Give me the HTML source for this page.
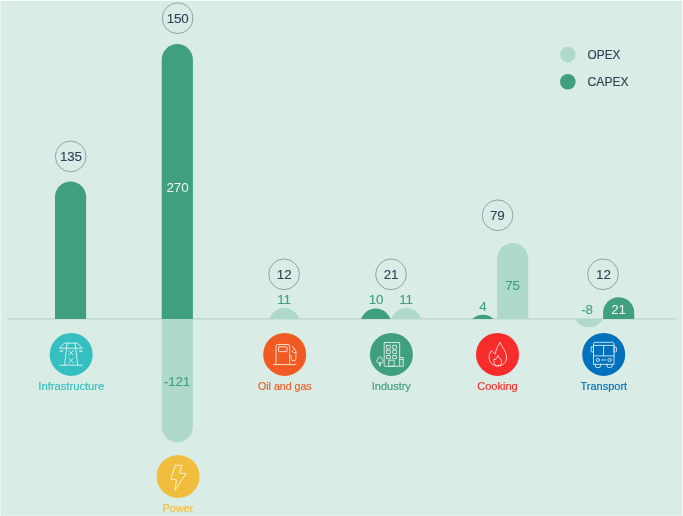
<!DOCTYPE html>
<html lang="en">
<head>
<meta charset="utf-8">
<title>OPEX and CAPEX by sector</title>
<style>
html,body{margin:0;padding:0;width:683px;height:516px;overflow:hidden;background:#d9ece5;}
svg{display:block;position:absolute;left:0;top:0;}
text{font-family:"Liberation Sans",sans-serif;}
.num{font-size:13.4px;text-anchor:middle;letter-spacing:-0.1px;}
.dk{fill:#2d4356;stroke:#2d4356;stroke-width:0.1px;}
.gr{fill:#3f9f7f;stroke:#3f9f7f;stroke-width:0.1px;}
.wh{fill:#ffffff;fill-opacity:.93;}
.lab{font-size:11px;text-anchor:middle;stroke-width:0.18px;}
.leg{font-size:13.5px;fill:#2d4356;stroke:#2d4356;stroke-width:0.18px;}
.ring{fill:none;stroke:#7f9098;stroke-width:0.8;}
.ic{fill:none;stroke:#ffffff;stroke-width:0.9;stroke-linecap:round;stroke-linejoin:round;opacity:.85}
</style>
</head>
<body>
<svg width="683" height="516" viewBox="0 0 683 516">
<rect x="0" y="0" width="683" height="516" fill="#d9ece5"/>
<rect x="0" y="0" width="1" height="516" fill="#ebf5f2"/>
<rect x="682" y="0" width="1" height="516" fill="#f4f9f7"/>
<rect x="0" y="515" width="683" height="1" fill="#e2f1ea"/>
<rect x="0" y="0" width="683" height="1" fill="#f8fcfa"/>
<defs>
<clipPath id="up"><rect x="0" y="0" width="683" height="319"/></clipPath>
<clipPath id="dn"><rect x="0" y="319" width="683" height="197"/></clipPath>
</defs>

<!-- baseline -->
<rect x="7.5" y="318.05" width="669" height="1.65" fill="#c4dcd6"/>

<!-- bars (positive) -->
<g clip-path="url(#up)">
  <rect x="55" y="181.5" width="31.1" height="200" rx="15.55" fill="#3f9f7f"/>
  <rect x="161.7" y="44.1" width="31.2" height="320" rx="15.6" fill="#3f9f7f"/>
  <rect x="268.6" y="307.9" width="31.1" height="60" rx="15.55" fill="#b0d9cd"/>
  <rect x="360.2" y="308.6" width="31.1" height="60" rx="15.55" fill="#3f9f7f"/>
  <rect x="390.7" y="307.9" width="31.1" height="60" rx="15.55" fill="#b0d9cd"/>
  <rect x="467.4" y="314.7" width="31.1" height="60" rx="15.55" fill="#3f9f7f"/>
  <rect x="497.1" y="243" width="31.1" height="120" rx="15.55" fill="#b0d9cd"/>
  <rect x="603.1" y="297.2" width="31.1" height="60" rx="15.55" fill="#3f9f7f"/>
</g>
<!-- bars (negative) -->
<g clip-path="url(#dn)">
  <rect x="161.7" y="280" width="31.2" height="162.4" rx="15.6" fill="#b0d9cd"/>
  <rect x="573.4" y="280" width="31.1" height="47.2" rx="15.55" fill="#b0d9cd"/>
</g>

<!-- total rings -->
<circle class="ring" cx="70.7" cy="156.4" r="15.35"/>
<circle class="ring" cx="177.6" cy="18.2" r="15.35"/>
<circle class="ring" cx="284.1" cy="274.3" r="15.35"/>
<circle class="ring" cx="391" cy="274.3" r="15.35"/>
<circle class="ring" cx="497.6" cy="215.3" r="15.35"/>
<circle class="ring" cx="603" cy="274.3" r="15.35"/>

<text class="num dk" x="70.9" y="161.4">135</text>
<text class="num dk" x="177.7" y="23.2">150</text>
<text class="num dk" x="284.2" y="279.4">12</text>
<text class="num dk" x="391" y="279.4">21</text>
<text class="num dk" x="497.3" y="220.4">79</text>
<text class="num dk" x="603.4" y="279.4">12</text>

<!-- bar values -->
<text class="num wh" x="177.5" y="192">270</text>
<text class="num gr" x="177" y="386">-121</text>
<text class="num gr" x="284" y="304">11</text>
<text class="num gr" x="376" y="304">10</text>
<text class="num gr" x="406" y="304">11</text>
<text class="num gr" x="483" y="311">4</text>
<text class="num gr" x="512.5" y="290">75</text>
<text class="num gr" x="587" y="314">-8</text>
<text class="num wh" x="618.5" y="314">21</text>

<!-- legend -->
<circle cx="567.8" cy="54.6" r="7.8" fill="#b0d9cd"/>
<circle cx="567.8" cy="81.7" r="7.8" fill="#3f9f7f"/>
<text class="leg" x="587.6" y="58.9" textLength="32.8" lengthAdjust="spacingAndGlyphs">OPEX</text>
<text class="leg" x="587.6" y="86.2" textLength="41" lengthAdjust="spacingAndGlyphs">CAPEX</text>

<!-- category icons -->
<circle cx="71.2" cy="354.4" r="21.5" fill="#35bfc0"/>
<circle cx="178.1" cy="476.5" r="21.5" fill="#f0be3c"/>
<circle cx="284.7" cy="354.4" r="21.5" fill="#f15a22"/>
<circle cx="391.4" cy="354.4" r="21.5" fill="#3f9f7f"/>
<circle cx="497.5" cy="354.4" r="21.5" fill="#f92c2c"/>
<circle cx="603.7" cy="354.4" r="21.5" fill="#0071bc"/>

<!-- pylon -->
<g class="ic" transform="translate(71.2 354.4)">
  <path d="M-6.3 -11.3H6.1L11.2 -6.2H-11.3Z"/>
  <path d="M-4 -11.3L-6.6 10.8M3.8 -11.3L6.5 10.8M-11.3 10.8H11.3"/>
  <path d="M-2.3 -3.8L2.1 0.6M2.1 -3.8L-2.3 0.6M-2.4 3.8L2.2 8.4M2.2 3.8L-2.4 8.4"/>
  <path d="M-11 -3.6H-8.4M-11 -2.8H-8.6M8.2 -3.6H11M8.4 -2.8H11" stroke-width="0.7"/>
</g>
<!-- bolt -->
<g class="ic" transform="translate(178.1 476.5)">
  <path d="M-2.5 -11.2H3.9L1.4 -3.3L8 -3L-3.1 13.8L-1.7 3.2L-6.7 2.7Z"/>
</g>
<!-- fuel pump -->
<g class="ic" transform="translate(284.7 354.4)">
  <path d="M-8.7 10.1V-8.4a1.5 1.5 0 0 1 1.5 -1.5H3.4a1.5 1.5 0 0 1 1.5 1.5V10.1"/>
  <path d="M-11.2 10.2H11.1"/>
  <rect x="-6.1" y="-7.6" width="8.5" height="4.8" rx="0.6"/>
  <path d="M4.9 1.1H5.6a1 1 0 0 1 1 1V4.2a2.3 2.3 0 0 0 4.6 0V-3.6L7.6 -8.2"/>
  <path d="M9.6 -5.6L7.9 -3.9a1.2 1.2 0 0 0 1.2 2H11.2"/>
</g>
<!-- building -->
<g class="ic" transform="translate(391.4 354.4)">
  <rect x="-7.2" y="-11.9" width="15.5" height="23.8" rx="0.5"/>
  <rect x="-4.9" y="-9" width="3.9" height="3.5" rx="0.5"/>
  <rect x="1.3" y="-9" width="3.9" height="3.5" rx="0.5"/>
  <rect x="-4.9" y="-4.2" width="3.9" height="3.4" rx="0.5"/>
  <rect x="1.3" y="-4.2" width="3.9" height="3.4" rx="0.5"/>
  <rect x="-4.9" y="1.1" width="3.9" height="3.2" rx="0.5"/>
  <rect x="1.3" y="1.1" width="3.9" height="3.2" rx="0.5"/>
  <rect x="-2.2" y="5.8" width="5" height="6.1"/>
  <path d="M8.3 11.9H11.8V5H8.3M8.3 3.1H11.8V5"/>
  <path d="M-13.3 8.4C-15.2 8.4 -15.4 6 -13.6 5.4C-13.8 3.6 -12.6 2.6 -11.5 2.6C-10.4 2.6 -9.2 3.6 -9.4 5.4C-7.6 6 -7.8 8.4 -9.7 8.4ZM-11.9 8.4V11.5M-11.1 8.4V11.5"/>
</g>
<!-- flame -->
<g class="ic" transform="translate(497.5 354.4)">
  <path d="M2.6 -11.7C0.4 -8.6 -1.6 -5 -2.2 -0.5C-3.6 -1.2 -5.2 -2.4 -6.1 -3.7C-8 -1 -8.6 1.6 -8.4 3.6C-8 8.4 -4.4 11.6 0.1 11.6C5 11.6 9 8 9 3C9 -2.6 5 -6.4 2.6 -11.7Z"/>
  <path d="M0.5 1.5C-0.6 3 -1.4 4.2 -2 5.4C-2.4 4.8 -2.8 4.4 -3.1 4.2C-3.7 5.6 -3.8 6.6 -3.6 7.8C-3.2 10 -1.6 11.4 0.1 11.4C2.4 11.4 4.2 9.8 4.2 7.6C4.2 5.4 2 3.6 0.5 1.5Z"/>
</g>
<!-- bus -->
<g class="ic" transform="translate(603.7 354.4)">
  <path d="M-10.2 9.6V-10.6a1.5 1.5 0 0 1 1.5 -1.5H8.8a1.5 1.5 0 0 1 1.5 1.5V9.6Z"/>
  <path d="M-10.2 -9H10.3M-10.2 1.5H10.3M-0.1 -9V1.5"/>
  <rect x="-12.5" y="-7.4" width="2.3" height="5" rx="0.5"/>
  <rect x="10.3" y="-7.4" width="2.4" height="5" rx="0.5"/>
  <circle cx="-5.8" cy="5.6" r="1.6"/>
  <circle cx="5.8" cy="5.6" r="1.6"/>
  <path d="M-2 5.6H2.2"/>
  <path d="M-8.3 9.6V11.6a1.5 1.5 0 0 0 1.5 1.5H-4.7a1.5 1.5 0 0 0 1.5 -1.5V9.6M3.3 9.6V11.6a1.5 1.5 0 0 0 1.5 1.5H6.9a1.5 1.5 0 0 0 1.5 -1.5V9.6"/>
</g>

<text class="lab" x="71.3" y="390.1" fill="#35bfc0" stroke="#35bfc0" textLength="66" lengthAdjust="spacingAndGlyphs">Infrastructure</text>
<text class="lab" x="177.8" y="512.4" fill="#f1c146" stroke="#f1c146" letter-spacing="-0.12">Power</text>
<text class="lab" x="284.8" y="390.1" fill="#f15a22" stroke="#f15a22" textLength="53.6" lengthAdjust="spacingAndGlyphs">Oil and gas</text>
<text class="lab" x="391.3" y="390.1" fill="#3f9f7f" stroke="#3f9f7f">Industry</text>
<text class="lab" x="497.5" y="390.1" fill="#f92c2c" stroke="#f92c2c">Cooking</text>
<text class="lab" x="603.8" y="390.1" fill="#0071bc" stroke="#0071bc">Transport</text>
</svg>
</body>
</html>
